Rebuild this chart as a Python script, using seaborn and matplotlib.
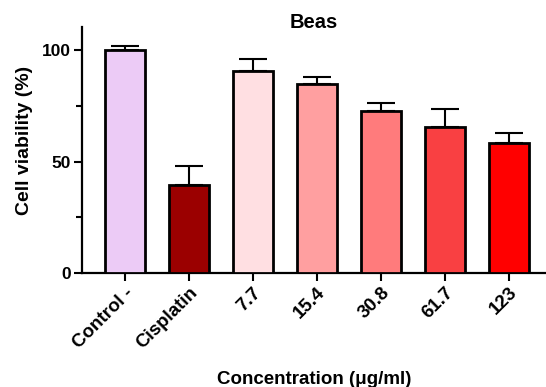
import matplotlib
matplotlib.use("Agg")
import matplotlib.pyplot as plt
import seaborn as sns
import numpy as np

# Cell viability data (mean and upper SD) per treatment
categories = ["Control -", "Cisplatin", "7.7", "15.4", "30.8", "61.7", "123"]
viability = [100.0, 39.3, 90.7, 84.6, 72.6, 65.5, 58.4]
sd = [1.9, 8.8, 5.1, 3.4, 3.5, 8.0, 4.5]
bar_colors = ["#ECCBF6", "#9B0000", "#FFDFE2", "#FF9FA0", "#FF7B7C", "#F94042", "#FF0000"]
y_ticks = [0, 50, 100]

sns.set_style("ticks")
plt.rcParams["font.family"] = ["Liberation Sans", "DejaVu Sans"]
plt.rcParams["font.weight"] = "bold"
for key in ["text.color", "axes.labelcolor", "xtick.color", "ytick.color", "axes.edgecolor"]:
    plt.rcParams[key] = "black"

fig = plt.figure(figsize=(5.46, 3.87), dpi=100)
ax = fig.add_axes([0.150, 0.2946, 0.85, 0.6354])

sns.barplot(x=categories, y=viability, hue=categories, palette=bar_colors,
            legend=False, width=0.625, edgecolor="black", linewidth=2.0,
            saturation=1, ax=ax, zorder=3)

# One-sided (upper) error bars
x = np.arange(len(categories))
ax.errorbar(x, viability, yerr=[np.zeros(len(sd)), sd], fmt="none",
            ecolor="black", elinewidth=1.5, capsize=10, capthick=1.5, zorder=2)

ax.set_xlim(-0.67, 6.58)
ax.set_ylim(0, 110.3)
ax.set_yticks(y_ticks)
ax.set_yticks([25, 75], minor=True)
ax.tick_params(axis="both", which="major", length=6, width=1.5, pad=2)
ax.tick_params(axis="y", which="major", labelsize=12.5)
ax.tick_params(axis="y", which="minor", length=4, width=1.5)
for lbl in ax.get_yticklabels():
    lbl.set_fontweight("bold")
ax.set_xticks(x)
ax.set_xticklabels(categories, rotation=45, ha="right", rotation_mode="anchor",
                   fontweight="bold", fontsize=13.5)

for side in ["top", "right"]:
    ax.spines[side].set_visible(False)
for side in ["left", "bottom"]:
    ax.spines[side].set_linewidth(1.6)

ax.set_ylabel("Cell viability (%)", fontsize=14, fontweight="bold")
ax.yaxis.set_label_coords(-0.106, 0.54)
ax.set_xlabel("Concentration (\u03bcg/ml)", fontsize=13.5, fontweight="bold", labelpad=14)
ax.set_title("Beas", fontsize=14.5, fontweight="bold", y=1.0, pad=-1)

fig.savefig("out.png", dpi=100)
